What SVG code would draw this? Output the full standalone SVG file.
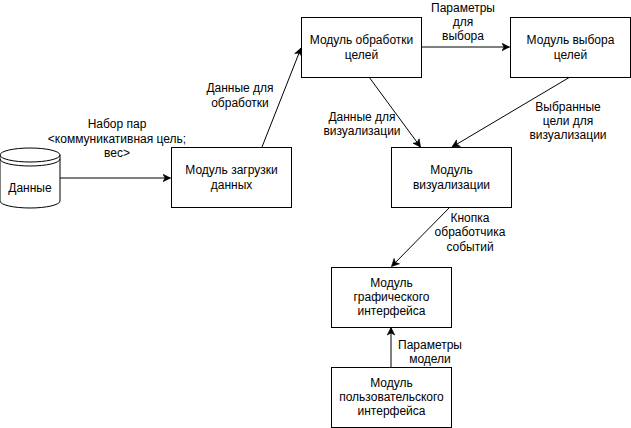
<svg xmlns="http://www.w3.org/2000/svg" width="631" height="428" viewBox="0 0 631 428">
<style>
.box{fill:#fff;stroke:#000;stroke-width:1}
.t{font-family:"Liberation Sans",Arial,sans-serif;font-size:12px;fill:#000;text-anchor:middle}
.e{fill:none;stroke:#000;stroke-width:1;marker-end:url(#arr)}
</style>
<defs>
<marker id="arr" markerUnits="userSpaceOnUse" viewBox="-8 -5 10 10" refX="0" refY="0" markerWidth="10" markerHeight="10" orient="auto">
<path d="M0,0 L-7.5,-3.8 L-5.5,0 L-7.5,3.8 Z" fill="#000" stroke="#000" stroke-width="0.6"/>
</marker>
</defs>
<rect width="631" height="428" fill="#fff"/>
<g id="connectors">
<line class="e" x1="60" y1="178" x2="170.5" y2="178"/>
<line class="e" x1="262" y1="147" x2="301" y2="48"/>
<line class="e" x1="421" y1="47" x2="509.5" y2="47"/>
<line class="e" x1="369" y1="77" x2="420.5" y2="147"/>
<line class="e" x1="570" y1="77" x2="452" y2="147"/>
<line class="e" x1="450" y1="207" x2="391.5" y2="266.5"/>
<line class="e" x1="391" y1="367" x2="391" y2="327.5"/>
<text class="t" x="117" y="128">Набор пар</text>
<text class="t" x="117" y="142.5">&lt;коммуникативная цель;</text>
<text class="t" x="117" y="157">вес&gt;</text>
<text class="t" x="240" y="92">Данные для</text>
<text class="t" x="240" y="107">обработки</text>
<text class="t" x="463" y="11.5">Параметры</text>
<text class="t" x="463" y="26">для</text>
<text class="t" x="463" y="40.3">выбора</text>
<text class="t" x="362" y="121">Данные для</text>
<text class="t" x="362" y="135">визуализации</text>
<text class="t" x="568" y="111">Выбранные</text>
<text class="t" x="568" y="125">цели для</text>
<text class="t" x="568" y="139">визуализации</text>
<text class="t" x="470" y="222">Кнопка</text>
<text class="t" x="470" y="236">обработчика</text>
<text class="t" x="470" y="251">событий</text>
<text class="t" x="430" y="349">Параметры</text>
<text class="t" x="430" y="363">модели</text>
</g>
<g id="data">
<path class="box" d="M0,155 A30,7 0 0 1 60,155 L60,201 A30,7 0 0 1 0,201 Z"/>
<path d="M0,155 A30,7 0 0 0 60,155 M0,159 A30,7 0 0 0 60,159" fill="none" stroke="#000"/>
<text class="t" x="30" y="192">Данные</text>
</g>
<g id="load">
<rect class="box" x="171.5" y="147.5" width="120" height="60"/>
<text class="t" x="231.5" y="174">Модуль загрузки</text>
<text class="t" x="231.5" y="188.5">данных</text>
</g>
<g id="process">
<rect class="box" x="301.5" y="17.5" width="120" height="60"/>
<text class="t" x="361.5" y="44">Модуль обработки</text>
<text class="t" x="361.5" y="58.5">целей</text>
</g>
<g id="select">
<rect class="box" x="510.5" y="17.5" width="120" height="60"/>
<text class="t" x="570.5" y="44">Модуль выбора</text>
<text class="t" x="570.5" y="58.5">целей</text>
</g>
<g id="vis">
<rect class="box" x="391.5" y="147.5" width="120" height="60"/>
<text class="t" x="451.5" y="174">Модуль</text>
<text class="t" x="451.5" y="188.5">визуализации</text>
</g>
<g id="gui">
<rect class="box" x="331.5" y="267.5" width="120" height="60"/>
<text class="t" x="391.5" y="286.6">Модуль</text>
<text class="t" x="391.5" y="301">графического</text>
<text class="t" x="391.5" y="315.4">интерфейса</text>
</g>
<g id="ui">
<rect class="box" x="331.5" y="367.5" width="120" height="60"/>
<text class="t" x="391.5" y="386.6">Модуль</text>
<text class="t" x="391.5" y="401">пользовательского</text>
<text class="t" x="391.5" y="415.4">интерфейса</text>
</g>
</svg>
